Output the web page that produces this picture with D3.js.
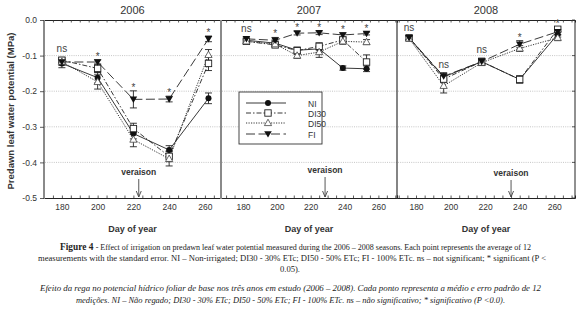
<!DOCTYPE html>
<html><head><meta charset="utf-8">
<script src="https://cdnjs.cloudflare.com/ajax/libs/d3/7.8.5/d3.min.js"></script>
<style>body{margin:0;background:#fff}svg{display:block}</style>
</head><body>
<script>
// ---------- data ----------
const years = ["2006", "2007", "2008"];
const seriesNames = ["NI", "DI30", "DI50", "FI"];
const yTicks = [0, -0.1, -0.2, -0.3, -0.4, -0.5];
const yTickLabels = ["0.0", "-0.1", "-0.2", "-0.3", "-0.4", "-0.5"];
const xTicks = [180, 200, 220, 240, 260];

const days2006 = [180, 200, 220, 240, 262];
const NI_2006 = [-0.122, -0.162, -0.319, -0.365, -0.220];
const NI_2006_err = [0.012, 0.015, 0.015, 0.012, 0.015];
const DI30_2006 = [-0.113, -0.136, -0.305, -0.383, -0.122];
const DI30_2006_err = [0.008, 0.012, 0.015, 0.015, 0.020];
const DI50_2006 = [-0.117, -0.174, -0.336, -0.390, -0.098];
const DI50_2006_err = [0.010, 0.020, 0.020, 0.020, 0.015];
const FI_2006 = [-0.118, -0.118, -0.223, -0.222, -0.053];
const FI_2006_err = [0.008, 0.006, 0.024, 0.008, 0.008];
const sig2006 = ["ns", "*", "*", "*", "*"];
const veraison2006 = 223;

const days2007 = [182, 199, 212, 225, 239, 253];
const NI_2007 = [-0.057, -0.065, -0.085, -0.081, -0.135, -0.137];
const NI_2007_err = [0.005, 0.006, 0.008, 0.010, 0.006, 0.008];
const DI30_2007 = [-0.060, -0.070, -0.086, -0.074, -0.056, -0.118];
const DI30_2007_err = [0.005, 0.006, 0.010, 0.010, 0.008, 0.020];
const DI50_2007 = [-0.060, -0.068, -0.100, -0.090, -0.060, -0.062];
const DI50_2007_err = [0.005, 0.006, 0.008, 0.015, 0.008, 0.007];
const FI_2007 = [-0.053, -0.057, -0.037, -0.036, -0.042, -0.038];
const FI_2007_err = [0.005, 0.008, 0.005, 0.005, 0.006, 0.004];
const sig2007 = ["ns", "*", "*", "*", "*", "*"];
const veraison2007 = 228.5;

const days2008 = [176, 196, 218, 240, 262];
const NI_2008 = [-0.050, -0.160, -0.117, -0.167, -0.040];
const NI_2008_err = [0.006, 0.010, 0.008, 0.010, 0.008];
const DI30_2008 = [-0.050, -0.166, -0.117, -0.167, -0.026];
const DI30_2008_err = [0.006, 0.010, 0.010, 0.010, 0.006];
const DI50_2008 = [-0.052, -0.185, -0.120, -0.080, -0.050];
const DI50_2008_err = [0.006, 0.020, 0.008, 0.008, 0.008];
const FI_2008 = [-0.050, -0.158, -0.117, -0.068, -0.033];
const FI_2008_err = [0.006, 0.010, 0.008, 0.010, 0.008];
const sig2008 = ["ns", "ns", "ns", "*", "*"];
const veraison2008 = 235;

const captionEN = [
  "- Effect of irrigation on predawn leaf water potential measured during the 2006 \u2013 2008 seasons. Each point represents the average of 12",
  "measurements with the standard error. NI \u2013 Non-irrigated; DI30 - 30% ETc; DI50 - 50% ETc; FI - 100% ETc. ns \u2013 not significant; * significant (P <",
  "0.05)."
];
const captionPT = [
  "Efeito da rega no potencial h\u00eddrico foliar de base nos tr\u00eas anos em estudo (2006 \u2013 2008). Cada ponto representa a m\u00e9dio e erro padr\u00e3o de 12",
  "medi\u00e7\u00f5es. NI \u2013 N\u00e3o regado; DI30 - 30% ETc; DI50 - 50% ETc; FI - 100% ETc. ns \u2013 n\u00e3o significativo; * significativo (P <0.0)."
];

// ---------- build panels ----------
const panels = [
  {year: years[0], days: days2006, vals: [NI_2006, DI30_2006, DI50_2006, FI_2006],
   errs: [NI_2006_err, DI30_2006_err, DI50_2006_err, FI_2006_err], sig: sig2006, ver: veraison2006,
   x0: 44, x1: 221, dom: [170, 269], leftColor: "#8a8a8a", leftW: 2},
  {year: years[1], days: days2007, vals: [NI_2007, DI30_2007, DI50_2007, FI_2007],
   errs: [NI_2007_err, DI30_2007_err, DI50_2007_err, FI_2007_err], sig: sig2007, ver: veraison2007,
   x0: 221, x1: 397, dom: [167, 271], leftColor: "#8a8a8a", leftW: 2},
  {year: years[2], days: days2008, vals: [NI_2008, DI30_2008, DI50_2008, FI_2008],
   errs: [NI_2008_err, DI30_2008_err, DI50_2008_err, FI_2008_err], sig: sig2008, ver: veraison2008,
   x0: 397, x1: 575, dom: [169, 272], leftColor: "#333", leftW: 1.2}
];

const styles = {
  NI:   {dash: null,        marker: "circle"},
  DI30: {dash: "5,2,1.5,2", marker: "square"},
  DI50: {dash: "1.2,1.3",   marker: "triUp"},
  FI:   {dash: "9,3.5",     marker: "triDown"}
};

const W = 580, H = 312;
const svg = d3.select("body").append("svg").attr("width", W).attr("height", H)
  .style("font-family", "'Liberation Sans', Arial, sans-serif");

const yTop = 20, yBot = 198;
const y = d3.scaleLinear().domain([0, -0.5]).range([yTop, yBot]);

function drawMarker(g, type, cx, cy) {
  if (type === "circle") {
    g.append("circle").attr("cx", cx).attr("cy", cy).attr("r", 3).attr("fill", "#111");
  } else if (type === "square") {
    g.append("rect").attr("x", cx - 3.2).attr("y", cy - 3.2).attr("width", 6.4).attr("height", 6.4)
      .attr("fill", "#fff").attr("stroke", "#222").attr("stroke-width", 0.9);
  } else if (type === "triUp") {
    g.append("path").attr("d", `M${cx},${cy - 3.8}L${cx + 3.6},${cy + 2.6}L${cx - 3.6},${cy + 2.6}Z`)
      .attr("fill", "#fff").attr("stroke", "#444").attr("stroke-width", 0.8);
  } else {
    g.append("path").attr("d", `M${cx - 3.8},${cy - 2.8}L${cx + 3.8},${cy - 2.8}L${cx},${cy + 3.6}Z`)
      .attr("fill", "#111");
  }
}

panels.forEach((p, pi) => {
  const x = d3.scaleLinear().domain(p.dom).range([p.x0, p.x1]);
  const g = svg.append("g");

  // grid
  [-0.1, -0.2, -0.3, -0.4].forEach(v => {
    g.append("line").attr("x1", p.x0 + 1).attr("x2", p.x1).attr("y1", y(v)).attr("y2", y(v))
      .attr("stroke", "#b8b8b8").attr("stroke-width", 0.8).attr("stroke-dasharray", "1,1.2");
  });

  // top/bottom lines with minor ticks
  const top = d3.axisTop(x).tickValues(d3.range(170, p.dom[1] + 0.1, 5)).tickSize(-2.5).tickFormat("");
  const gt = g.append("g").attr("transform", `translate(0,${yTop})`).call(top);
  const bot = d3.axisBottom(x).tickValues(d3.range(170, p.dom[1] + 0.1, 5)).tickSize(-2.5).tickFormat("");
  const gb = g.append("g").attr("transform", `translate(0,${yBot})`).call(bot);
  [gt, gb].forEach(a => {
    a.select(".domain").attr("stroke", "#222").attr("stroke-width", 1);
    a.selectAll(".tick line").attr("stroke", "#333").attr("stroke-width", 0.8);
  });

  // x tick labels
  const xl = d3.axisBottom(x).tickValues(xTicks).tickSize(0).tickPadding(6);
  const gx = g.append("g").attr("transform", `translate(0,${yBot})`).call(xl);
  gx.select(".domain").remove();
  gx.selectAll("text").attr("font-size", 8.5).attr("fill", "#333")
    .attr("font-family", "'Liberation Sans', Arial, sans-serif");

  // left border
  g.append("line").attr("x1", p.x0).attr("x2", p.x0).attr("y1", yTop).attr("y2", yBot + 1)
    .attr("stroke", p.leftColor).attr("stroke-width", p.leftW);
  if (pi === 2) {
    g.append("line").attr("x1", p.x1).attr("x2", p.x1).attr("y1", yTop).attr("y2", yBot)
      .attr("stroke", "#222").attr("stroke-width", 1);
    yTicks.forEach(v => g.append("line").attr("x1", p.x1 - 3).attr("x2", p.x1)
      .attr("y1", y(v)).attr("y2", y(v)).attr("stroke", "#333").attr("stroke-width", 0.8));
  }
  if (pi === 0) {
    const ya = d3.axisLeft(y).tickValues(yTicks).tickSize(4).tickPadding(3)
      .tickFormat((d, i) => yTickLabels[i]);
    const gy = g.append("g").attr("transform", `translate(${p.x0},0)`).call(ya);
    gy.select(".domain").remove();
    gy.selectAll(".tick line").attr("stroke", "#333").attr("stroke-width", 0.8);
    gy.selectAll("text").attr("font-size", 8.5).attr("fill", "#333")
      .attr("font-family", "'Liberation Sans', Arial, sans-serif");
  }

  // title
  g.append("text").attr("x", (p.x0 + p.x1) / 2).attr("y", 14).attr("text-anchor", "middle")
    .attr("font-size", 11).attr("fill", "#333").text(p.year);
  // x label
  g.append("text").attr("x", (p.x0 + p.x1) / 2).attr("y", 232).attr("text-anchor", "middle")
    .attr("font-size", 9).attr("font-weight", "bold").attr("fill", "#333").text("Day of year");

  // veraison
  const vx = x(p.ver);
  const vy = pi === 1 ? 173 : (pi === 0 ? 175 : 176);
  g.append("text").attr("x", vx).attr("y", vy).attr("text-anchor", "middle")
    .attr("font-size", 8.5).attr("font-weight", "bold").attr("fill", "#333").text("veraison");
  g.append("line").attr("x1", vx).attr("x2", vx).attr("y1", vy + 4).attr("y2", yBot - 1)
    .attr("stroke", "#444").attr("stroke-width", 0.9);
  g.append("path").attr("d", `M${vx - 2.5},${yBot - 7}L${vx},${yBot - 1}L${vx + 2.5},${yBot - 7}`)
    .attr("fill", "none").attr("stroke", "#444").attr("stroke-width", 0.9);

  // series
  const line = d3.line().x(d => x(d[0])).y(d => y(d[1]));
  seriesNames.forEach((s, si) => {
    const pts = p.days.map((d, i) => [d, p.vals[si][i]]);
    g.append("path").attr("d", line(pts)).attr("fill", "none").attr("stroke", "#222")
      .attr("stroke-width", 0.9).attr("stroke-dasharray", styles[s].dash);
  });
  seriesNames.forEach((s, si) => {
    p.days.forEach((d, i) => {
      const v = p.vals[si][i], e = p.errs[si][i];
      const cx = x(d);
      g.append("line").attr("x1", cx).attr("x2", cx).attr("y1", y(v + e)).attr("y2", y(v - e))
        .attr("stroke", "#222").attr("stroke-width", 0.9);
      [v + e, v - e].forEach(c => g.append("line").attr("x1", cx - 3.5).attr("x2", cx + 3.5)
        .attr("y1", y(c)).attr("y2", y(c)).attr("stroke", "#222").attr("stroke-width", 0.9));
    });
  });
  seriesNames.forEach((s, si) => {
    p.days.forEach((d, i) => drawMarker(g, styles[s].marker, x(d), y(p.vals[si][i])));
  });

  // significance labels
  p.sig.forEach((lab, i) => {
    const topV = d3.max(seriesNames.map((s, si) => p.vals[si][i] + p.errs[si][i]));
    const ty = y(topV) - (lab === "ns" ? 5 : 3);
    g.append("text").attr("x", x(p.days[i])).attr("y", lab === "ns" ? ty : ty + 3)
      .attr("text-anchor", "middle").attr("font-size", lab === "ns" ? 10 : 10).attr("fill", "#444").text(lab);
  });
});

// legend (in 2007 panel)
const lg = svg.append("g");
lg.append("rect").attr("x", 239).attr("y", 92).attr("width", 83).attr("height", 52)
  .attr("fill", "#fff").attr("stroke", "#333").attr("stroke-width", 0.9);
seriesNames.forEach((s, i) => {
  const ly = [103, 113, 123, 134][i];
  lg.append("line").attr("x1", 246).attr("x2", 286).attr("y1", ly).attr("y2", ly)
    .attr("stroke", "#222").attr("stroke-width", 0.9).attr("stroke-dasharray", styles[s].dash);
  drawMarker(lg, styles[s].marker, 268, ly);
  lg.append("text").attr("x", 308).attr("y", ly + 3.5).attr("font-size", 8.5).attr("fill", "#333").text(s);
});

// y axis label
svg.append("text").attr("transform", "translate(14,111) rotate(-90)").attr("text-anchor", "middle")
  .attr("font-size", 9).attr("font-weight", "bold").attr("fill", "#333")
  .attr("textLength", 157).attr("lengthAdjust", "spacingAndGlyphs")
  .text("Predawn leaf water potential (MPa)");

// captions
const cap = svg.append("g").attr("font-family", "'Liberation Serif', 'Times New Roman', serif").attr("fill", "#222");
const t1 = cap.append("text").attr("x", 60).attr("y", 250).attr("font-size", 8.6)
  .attr("textLength", 471).attr("lengthAdjust", "spacingAndGlyphs");
t1.append("tspan").attr("font-weight", "bold").attr("font-size", 10).text("Figure 4 ");
t1.append("tspan").text(captionEN[0]);
cap.append("text").attr("x", 38).attr("y", 261).attr("font-size", 8.6).attr("textLength", 508)
  .attr("lengthAdjust", "spacingAndGlyphs").text(captionEN[1]);
cap.append("text").attr("x", 290).attr("y", 272).attr("font-size", 8.6).attr("text-anchor", "middle").text(captionEN[2]);
cap.append("text").attr("x", 40).attr("y", 291).attr("font-size", 8.6).attr("font-style", "italic")
  .attr("textLength", 501).attr("lengthAdjust", "spacingAndGlyphs").text(captionPT[0]);
cap.append("text").attr("x", 76).attr("y", 303).attr("font-size", 8.6).attr("font-style", "italic")
  .attr("textLength", 429).attr("lengthAdjust", "spacingAndGlyphs").text(captionPT[1]);
</script>
</body></html>
